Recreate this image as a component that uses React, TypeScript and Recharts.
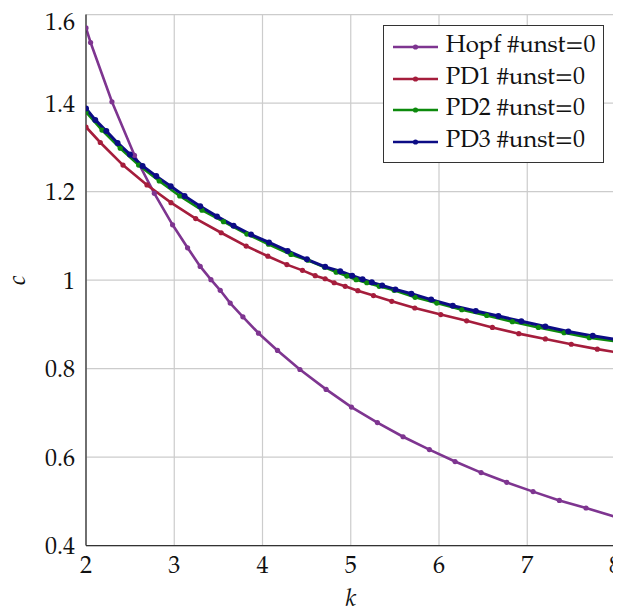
import React from "react";
import { LineChart, Line, XAxis, YAxis, CartesianGrid, Label } from "recharts";

const hopfK = [2.0, 2.052, 2.294, 2.549, 2.774, 2.981, 3.151, 3.294, 3.416, 3.521, 3.634, 3.778, 3.955, 4.17, 4.424, 4.721, 5.008, 5.302, 5.593, 5.891, 6.182, 6.477, 6.768, 7.066, 7.364, 7.666, 8.0];
const hopfC = [1.57, 1.537, 1.403, 1.282, 1.196, 1.125, 1.073, 1.031, 1.001, 0.977, 0.948, 0.917, 0.88, 0.841, 0.798, 0.753, 0.713, 0.678, 0.646, 0.617, 0.59, 0.565, 0.543, 0.522, 0.502, 0.485, 0.465];

const pd1K = [2.0, 2.162, 2.419, 2.691, 2.963, 3.243, 3.532, 3.815, 4.061, 4.276, 4.453, 4.597, 4.71, 4.812, 4.937, 5.08, 5.257, 5.465, 5.726, 6.02, 6.313, 6.605, 6.904, 7.205, 7.499, 7.794, 8.0];
const pd1C = [1.346, 1.311, 1.26, 1.215, 1.175, 1.139, 1.107, 1.077, 1.054, 1.035, 1.022, 1.01, 1.003, 0.994, 0.986, 0.976, 0.965, 0.952, 0.937, 0.922, 0.908, 0.893, 0.879, 0.867, 0.855, 0.844, 0.837];

const pd2K = [2.0, 2.181, 2.388, 2.596, 2.83, 3.062, 3.314, 3.558, 3.823, 4.068, 4.322, 4.514, 4.704, 4.835, 4.956, 5.061, 5.182, 5.322, 5.491, 5.729, 5.975, 6.258, 6.541, 6.831, 7.126, 7.417, 7.703, 8.0];
const pd2C = [1.38, 1.339, 1.298, 1.26, 1.224, 1.19, 1.158, 1.132, 1.104, 1.081, 1.058, 1.045, 1.029, 1.018, 1.009, 1.001, 0.994, 0.986, 0.977, 0.961, 0.948, 0.933, 0.92, 0.906, 0.893, 0.881, 0.87, 0.862];

const pd3K = [2.0, 2.105, 2.23, 2.358, 2.498, 2.641, 2.796, 2.96, 3.117, 3.294, 3.484, 3.672, 3.87, 4.074, 4.285, 4.503, 4.71, 4.88, 5.016, 5.133, 5.239, 5.356, 5.506, 5.687, 5.911, 6.156, 6.417, 6.673, 6.933, 7.205, 7.465, 7.742, 8.0];
const pd3C = [1.388, 1.362, 1.337, 1.31, 1.284, 1.258, 1.235, 1.212, 1.19, 1.167, 1.144, 1.123, 1.103, 1.085, 1.066, 1.047, 1.03, 1.02, 1.01, 1.002, 0.995, 0.988, 0.979, 0.969, 0.956, 0.942, 0.93, 0.919, 0.907, 0.895, 0.884, 0.874, 0.866];

const seriesNames = ["Hopf #unst=0", "PD1 #unst=0", "PD2 #unst=0", "PD3 #unst=0"];
const seriesColors = ["#7e3590", "#a51d3c", "#0d8a0d", "#0c0c85"];
const xTicks = [2, 3, 4, 5, 6, 7, 8];
const yTicks = [0.4, 0.6, 0.8, 1, 1.2, 1.4, 1.6];

const zip = (ks: number[], cs: number[]) => ks.map((k, i) => ({ k, c: cs[i] }));
const seriesData = [zip(hopfK, hopfC), zip(pd1K, pd1C), zip(pd2K, pd2C), zip(pd3K, pd3C)];

const FONT = '"TeX Gyre Pagella", "Liberation Serif", "DejaVu Serif"';

const XLabel = (props: any) => {
  const vb = props.viewBox || {};
  const cx = (vb.x || 0) + (vb.width || 0) / 2;
  return (
    <text x={cx} y={592} textAnchor="middle" dominantBaseline="central"
      style={{ fontSize: 24, fontStyle: "italic", fill: "#111", fontFamily: FONT }}>k</text>
  );
};

const YLabel = (props: any) => {
  const vb = props.viewBox || {};
  const cy = (vb.y || 0) + (vb.height || 0) / 2;
  return (
    <text x={12} y={cy} textAnchor="middle" dominantBaseline="central" transform={`rotate(-90, 12, ${cy})`}
      style={{ fontSize: 24, fontStyle: "italic", fill: "#111", fontFamily: FONT }}>c</text>
  );
};

export default function App() {
  return (
    <div style={{ position: "relative", width: 613, height: 607, fontFamily: FONT }}>
      <style>{`.recharts-surface{overflow:visible}`}</style>
      <LineChart
        width={613}
        height={607}
        margin={{ top: 6.6, right: 5.5, bottom: 9.4, left: 0 }}
      >
        <CartesianGrid stroke="#cccccc" strokeWidth={1.2} />
        <XAxis
          type="number"
          dataKey="k"
          domain={[2, 8]}
          ticks={xTicks}
          allowDataOverflow
          height={60}
          tickSize={6}
          tickMargin={4}
          tickLine={false}
          axisLine={{ stroke: "#333", strokeWidth: 1.3 }}
          tick={{ fill: "#111", fontSize: 24, fontFamily: FONT }}
        >
          <Label content={XLabel} />
        </XAxis>
        <XAxis
          xAxisId="top"
          orientation="top"
          type="number"
          dataKey="k"
          domain={[2, 8]}
          ticks={xTicks}
          height={0}
          tick={false}
          axisLine={{ stroke: "#333", strokeWidth: 1.3 }}
        />
        <YAxis
          type="number"
          domain={[0.4, 1.6]}
          ticks={yTicks}
          allowDataOverflow
          width={78}
          tickSize={6}
          tickMargin={5}
          tickLine={false}
          axisLine={{ stroke: "#333", strokeWidth: 1.3 }}
          tick={{ fill: "#111", fontSize: 24, fontFamily: FONT }}
          tickFormatter={(v: number) => (v === 1 ? "1" : v.toFixed(1))}
        >
          <Label content={YLabel} />
        </YAxis>
        <YAxis
          yAxisId="right"
          orientation="right"
          type="number"
          domain={[0.4, 1.6]}
          width={0}
          tick={false}
          axisLine={{ stroke: "#333", strokeWidth: 1.3 }}
        />
        {seriesData.map((d, i) => (
          <Line
            key={seriesNames[i]}
            data={d}
            dataKey="c"
            name={seriesNames[i]}
            type="linear"
            stroke={seriesColors[i]}
            strokeWidth={i === 3 ? 3 : 2.6}
            dot={{ r: i === 3 ? 3 : 2.6, fill: seriesColors[i], stroke: seriesColors[i], strokeWidth: 0 }}
            isAnimationActive={false}
          />
        ))}
      </LineChart>
      <div
        style={{
          position: "absolute",
          left: 374.7,
          top: 17,
          width: 221,
          height: 138,
          boxSizing: "border-box",
          border: "1.3px solid #333",
          background: "#fff",
          paddingTop: 5,
        }}
      >
        {seriesNames.map((n, i) => (
          <div key={n} style={{ height: 31.7, display: "flex", alignItems: "center" }}>
            <svg width={62} height={12} style={{ flex: "none" }}>
              <line x1={9} y1={6} x2={54} y2={6} stroke={seriesColors[i]} strokeWidth={2.6} />
              <circle cx={31.5} cy={6} r={2.6} fill={seriesColors[i]} />
            </svg>
            <span style={{ fontSize: 24, color: "#111", whiteSpace: "nowrap", lineHeight: "24px", fontFamily: FONT }}>{n}</span>
          </div>
        ))}
      </div>
    </div>
  );
}
